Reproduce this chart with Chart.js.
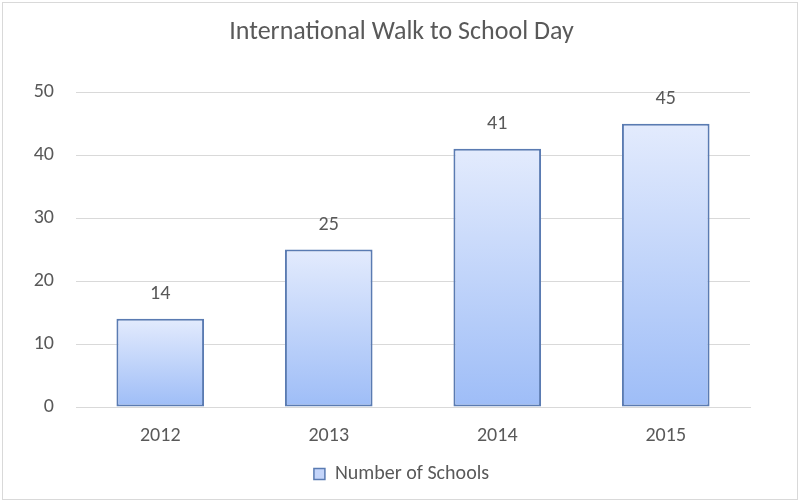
<!DOCTYPE html>
<html>
<head>
<meta charset="utf-8">
<script src="https://cdn.jsdelivr.net/npm/chart.js@4/dist/chart.umd.min.js"></script>
<style>
  html, body { margin: 0; padding: 0; background: #fff; }
  #wrap { position: relative; width: 803px; height: 504px; }
  #frame { position: absolute; left: 2px; top: 2px; width: 794px; height: 496px; border: 1px solid #d9d9d9; pointer-events: none; }
  canvas { position: absolute; left: 0; top: 0; }
</style>
</head>
<body>
<div id="wrap">
  <canvas id="schoolChart" width="803" height="504"></canvas>
  <div id="frame"></div>
</div>
<script>
// chart values
const years = ["2012", "2013", "2014", "2015"];
const schools = [14, 25, 41, 45];
const seriesName = "Number of Schools";
const chartTitle = "International Walk to School Day";

const grey = "#595959";
const font = "Calibri, Carlito, Lato, 'Open Sans', sans-serif";

// value labels above each bar
const valueLabels = {
    id: "valueLabels",
    afterDatasetsDraw(chart) {
        const ctx = chart.ctx;
        const meta = chart.getDatasetMeta(0);
        ctx.save();
        ctx.font = "20px " + font;
        ctx.fillStyle = grey;
        ctx.textAlign = "center";
        ctx.textBaseline = "middle";
        meta.data.forEach((bar, i) => {
            ctx.fillText(String(schools[i]), bar.x, bar.y - 25);
        });
        ctx.restore();
    }
};

function barFill(context) {
    const chart = context.chart;
    if (!chart.chartArea || context.raw === undefined) return "#c4d5fa";
    const y = chart.scales.y;
    const top = y.getPixelForValue(context.raw);
    const bottom = y.getPixelForValue(0);
    const g = chart.ctx.createLinearGradient(0, top, 0, bottom);
    g.addColorStop(0, "#e3ebfd");
    g.addColorStop(1, "#9ebdf7");
    return g;
}

new Chart(document.getElementById("schoolChart"), {
    type: "bar",
    data: {
        labels: years,
        datasets: [{
            label: seriesName,
            data: schools,
            backgroundColor: barFill,
            borderColor: "#5a7bb2",
            borderWidth: 2,
            borderSkipped: false,
            categoryPercentage: 0.52,
            barPercentage: 1
        }]
    },
    options: {
        responsive: false,
        animation: false,
        layout: { padding: { left: 0, right: 0, top: 0, bottom: 10 } },
        scales: {
            x: {
                grid: { display: false, drawTicks: false },
                border: { display: true, color: "#d9d9d9", width: 1 },
                ticks: { color: grey, font: { family: font, size: 20 }, padding: 17 },
                afterFit(scale) { scale.height = 51; }
            },
            y: {
                min: 0,
                max: 50,
                ticks: { stepSize: 10, color: grey, font: { family: font, size: 20 }, padding: 22 },
                grid: { color: "#d9d9d9", drawTicks: false },
                border: { display: false },
                afterFit(scale) { scale.width = 76; }
            },
            // empty right axis, only keeps the plot off the right edge
            yRight: {
                position: "right",
                min: 0,
                max: 50,
                grid: { display: false, drawTicks: false },
                border: { display: false },
                ticks: { display: false },
                afterFit(scale) { scale.width = 53; }
            }
        },
        plugins: {
            title: {
                display: true,
                text: chartTitle,
                color: grey,
                font: { family: font, size: 26, weight: "normal" },
                padding: { top: 17, bottom: 44 }
            },
            legend: {
                position: "bottom",
                labels: {
                    color: grey,
                    font: { family: font, size: 20 },
                    boxWidth: 11,
                    boxHeight: 11,
                    padding: 6,
                    generateLabels() {
                        return [{
                            text: seriesName,
                            fillStyle: "#c4d5fa",
                            strokeStyle: "#5a7bb2",
                            lineWidth: 1.5,
                            fontColor: grey,
                            datasetIndex: 0
                        }];
                    }
                }
            },
            tooltip: { enabled: false }
        }
    },
    plugins: [valueLabels]
});
</script>
</body>
</html>
